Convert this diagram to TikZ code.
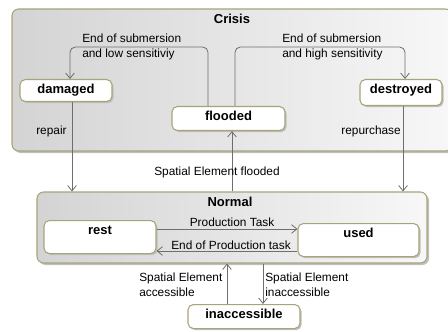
\documentclass[tikz,border=0pt]{standalone}
\usepackage{fontspec}
\setmainfont{Liberation Sans}
\usetikzlibrary{arrows.meta,shadows}
\definecolor{stateborder}{HTML}{A8A47A}
\definecolor{edgegray}{HTML}{6E6E6E}

\begin{document}
\begin{tikzpicture}[x=0.75pt,y=0.75pt,yscale=-1,xscale=1,
  region/.style={draw=stateborder,line width=0.8pt,rounded corners=5pt,left color=black!17,right color=black!3,inner sep=0pt,
    drop shadow={shadow xshift=1.5pt,shadow yshift=-1.5pt,fill=black!25,opacity=1}},
  state/.style={draw=stateborder,line width=0.8pt,rounded corners=4pt,fill=white,inner sep=0pt,anchor=north,text height=10.5pt,
    font=\fontsize{9.75}{12}\selectfont\bfseries,
    drop shadow={shadow xshift=1.2pt,shadow yshift=-1.2pt,fill=black!25,opacity=1}},
  title/.style={inner sep=0pt,font=\fontsize{9.75}{12}\selectfont\bfseries},
  lbl/.style={inner sep=0pt,align=left,font=\fontsize{8.9}{11.25}\selectfont},
  trans/.style={draw=edgegray,line width=0.6pt,-{Straight Barb[length=4pt,width=6.5pt]}}]
\useasboundingbox (0,0) rectangle (448,331);

%Composite states
\node[region,minimum width=330pt,minimum height=106.5pt] (crisis) at (232,80) {};
\node[title] (crisistitle) at (232,19) {Crisis};
\node[region,minimum width=292.5pt,minimum height=53.25pt] (normal) at (232,227.5) {};
\node[title] (normaltitle) at (230,202) {Normal};

%States
\node[state,minimum width=69pt,text depth=6pt] (damaged) at (66,79) {damaged};
\node[state,minimum width=84.75pt,text depth=7.5pt] (flooded) at (228.5,106) {flooded};
\node[state,minimum width=61.5pt,text depth=9pt] (destroyed) at (401,79) {destroyed};
\node[state,minimum width=84pt,text depth=14.25pt] (rest) at (100,220) {rest};
\node[state,minimum width=90.75pt,text depth=14.25pt] (used) at (358.5,223) {used};
\node[state,minimum width=84pt,text depth=7.5pt] (inaccessible) at (244,304) {inaccessible};

%Transitions inside Crisis
\draw[trans,rounded corners=4pt] (208,0 |- flooded.north) -- (208,47) -- (70,47) -- (70,0 |- damaged.north);
\draw[trans,rounded corners=4pt] (235,0 |- flooded.north) -- (235,47) -- (405,47) -- (405,0 |- destroyed.north);
\node[lbl,anchor=west] (lowlbl) at (82,46.5) {End of submersion\\and low sensitiviy};
\node[lbl,anchor=west] (highlbl) at (282,46.5) {End of submersion\\and high sensitivity};

%Crisis <-> Normal
\draw[trans] (72,0 |- damaged.south) -- (72,0 |- normal.north);
\draw[trans] (403,0 |- destroyed.south) -- (403,0 |- normal.north);
\draw[trans] (232,0 |- normal.north) -- (232,0 |- flooded.south);
\node[lbl,anchor=west] (repairlbl) at (36,131) {repair};
\node[lbl,anchor=east] (repurchaselbl) at (401,131) {repurchase};
\node[lbl] (floodedlbl) at (217,172) {Spatial Element flooded};

%Transitions inside Normal
\draw[trans] (rest.east |- 0,229) -- (used.west |- 0,229);
\draw[trans] (used.west |- 0,251) -- (rest.east |- 0,251);
\node[lbl] (tasklbl) at (232,222) {Production Task};
\node[lbl] (endtasklbl) at (231,245.5) {End of Production task};

%Normal <-> inaccessible
\draw[trans] (227,0 |- inaccessible.north) -- (227,0 |- normal.south);
\draw[trans] (263,0 |- normal.south) -- (263,0 |- inaccessible.north);
\node[lbl,anchor=west] (acclbl) at (139,285) {Spatial Element\\accessible};
\node[lbl,anchor=west] (inacclbl) at (265,285) {Spatial Element\\inaccessible};

\end{tikzpicture}
\end{document}
